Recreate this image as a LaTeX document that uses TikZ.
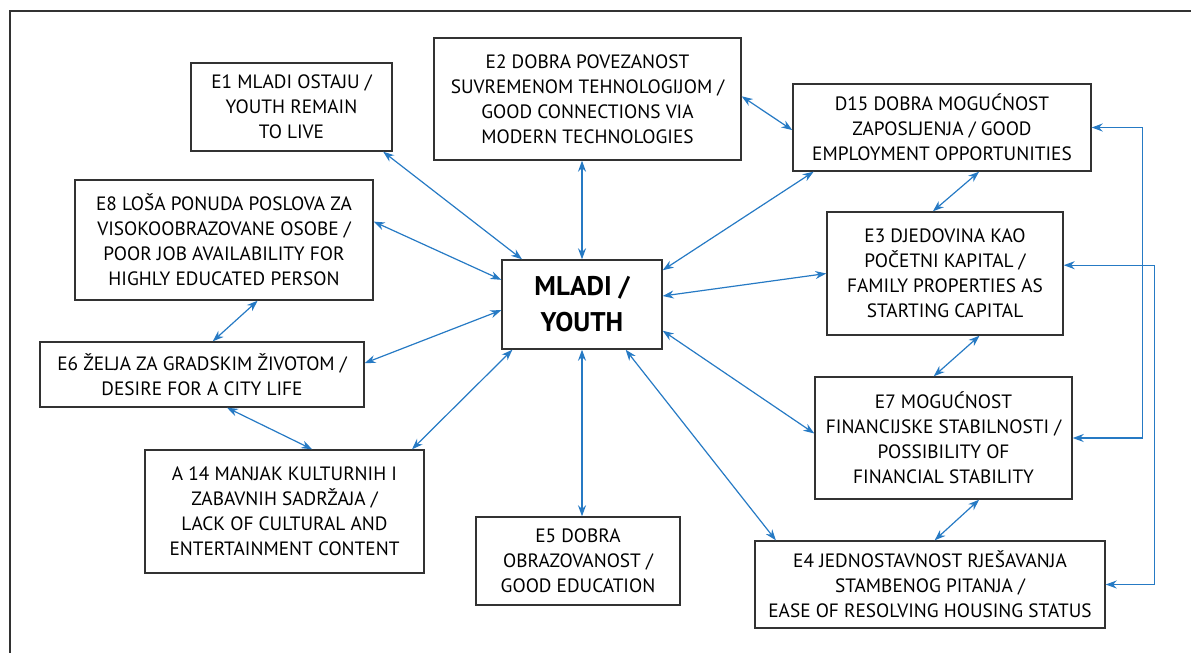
\documentclass[tikz,border=0pt]{standalone}
\usepackage{fontspec}
\setmainfont{PT Sans}
\usetikzlibrary{arrows.meta}
\usetikzlibrary{positioning}

\definecolor{linkblue}{RGB}{38,122,196}
\definecolor{boxgray}{RGB}{50,50,50}

\tikzset{
  factor/.style={draw=boxgray, line width=1.4pt, fill=white, align=center,
    inner sep=0pt, font=\fontsize{19.3}{25}\selectfont},
  youth/.style={factor, font=\fontsize{27}{36}\selectfont\bfseries},
  link/.style={draw=linkblue, line width=1.2pt,
    {Stealth[length=11pt,width=8pt]}-{Stealth[length=11pt,width=8pt]}},
}

\begin{document}
\begin{tikzpicture}[x=1pt,y=-1pt]
    \useasboundingbox (0,0) rectangle (1191,653);
    % frame
    \draw[boxgray, line width=1.4pt] (10,653) -- (10,11) -- (1191,11);

    \node[youth, minimum width=160pt, minimum height=89pt] (m) at (582,304.5) {MLADI /\\YOUTH};

    \node[factor, minimum width=201pt, minimum height=88pt] (e1) at (291.5,107)
      {E1 MLADI OSTAJU /\\YOUTH REMAIN\\TO LIVE};
    \node[factor, minimum width=307pt, minimum height=122pt] (e2) at (587.5,99)
      {E2 DOBRA POVEZANOST\\SUVREMENOM TEHNOLOGIJOM /\\GOOD CONNECTIONS VIA\\MODERN TECHNOLOGIES};
    \node[factor, minimum width=298pt, minimum height=87pt] (d15) at (942,127.5)
      {D15 DOBRA MOGUĆNOST\\ZAPOSLJENJA / GOOD\\EMPLOYMENT OPPORTUNITIES};
    \node[factor, minimum width=298pt, minimum height=120pt] (e8) at (224,240)
      {E8 LOŠA PONUDA POSLOVA ZA\\VISOKOOBRAZOVANE OSOBE /\\POOR JOB AVAILABILITY FOR\\HIGHLY EDUCATED PERSON};
    \node[factor, minimum width=236pt, minimum height=123pt] (e3) at (945,273.5)
      {E3 DJEDOVINA KAO\\POČETNI KAPITAL /\\FAMILY PROPERTIES AS\\STARTING CAPITAL};
    \node[factor, minimum width=324pt, minimum height=65pt] (e6) at (202,374.5)
      {E6 ŽELJA ZA GRADSKIM ŽIVOTOM /\\DESIRE FOR A CITY LIFE};
    \node[factor, minimum width=257pt, minimum height=122pt] (e7) at (943.5,438)
      {E7 MOGUĆNOST\\FINANCIJSKE STABILNOSTI /\\POSSIBILITY OF\\FINANCIAL STABILITY};
    \node[factor, minimum width=279pt, minimum height=123pt] (a14) at (284.5,511.5)
      {A 14 MANJAK KULTURNIH I\\ZABAVNIH SADRŽAJA /\\LACK OF CULTURAL AND\\ENTERTAINMENT CONTENT};
    \node[factor, minimum width=204pt, minimum height=88pt] (e5) at (578,561)
      {E5 DOBRA\\OBRAZOVANOST /\\GOOD EDUCATION};
    \node[factor, minimum width=350pt, minimum height=87pt] (e4) at (930,584.5)
      {E4 JEDNOSTAVNOST RJEŠAVANJA\\STAMBENOG PITANJA /\\EASE OF RESOLVING HOUSING STATUS};

    % links to the centre
    \draw[link] (e1.-26) -- (m.143);
    \draw[link] (e8.7) -- (m.163);
    \draw[link] (e2.south -| m.north) -- (m.north);
    \draw[link] (d15.199) -- (m.23);
    \draw[link] (m.6) -- (e3.west);
    \draw[link] (m.-18) -- (e7.178);
    \draw[link] (m.-46) -- (e4.164);
    \draw[link] (m.south) -- (m.south |- e5.north);
    \draw[link] (m.213) -- (a14.26);
    \draw[link] (m.184) -- (e6.4);

    % links between neighbours
    \draw[link] (e2.1) -- (d15.181);
    \draw[link] (e8.-61) -- (e6.72);
    \draw[link] (e6.-53) -- (a14.66);
    \draw[link] (d15.-50) -- (e3.101);
    \draw[link] (e3.-61) -- (e7.99);
    \draw[link] (e7.-60) -- (e4.84);

    % right side loops
    \draw[link] (d15.east) -- ++(51,0) |- (e7.east);
    \draw[link] (e3.4) -- ++(91,0) |- (e4.east);
\end{tikzpicture}
\end{document}
